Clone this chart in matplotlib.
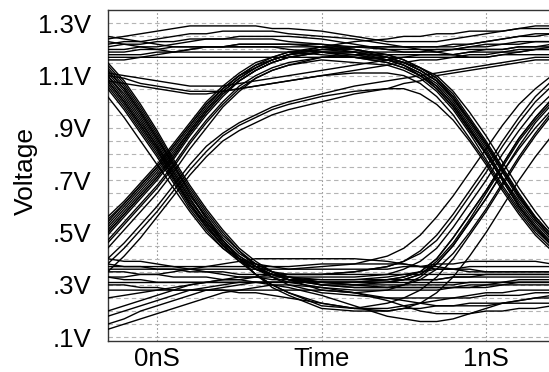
import matplotlib
matplotlib.use("Agg")
import matplotlib.pyplot as plt
from matplotlib.ticker import FixedLocator, MultipleLocator

plt.rcParams['font.family'] = ['Liberation Sans', 'DejaVu Sans']

# sample times (ns), shared by every trace
t_ns = [-0.15, -0.10, -0.05, 0.00, 0.05, 0.10, 0.15, 0.20, 0.25, 0.30, 0.35, 0.40, 0.50,
        0.60, 0.70, 0.75, 0.80, 0.85, 0.90, 0.95, 1.00, 1.05, 1.10, 1.15, 1.20, 1.25]

# voltage traces (V), grouped by bit pattern
stay_high = [
    [1.24, 1.25, 1.26, 1.27, 1.28, 1.29, 1.29, 1.29, 1.29, 1.29, 1.28, 1.28, 1.27, 1.25, 1.23, 1.23, 1.23, 1.23, 1.24, 1.25, 1.26, 1.27, 1.28, 1.29, 1.29, 1.29],
    [1.22, 1.23, 1.23, 1.24, 1.25, 1.26, 1.26, 1.27, 1.27, 1.27, 1.27, 1.26, 1.25, 1.24, 1.22, 1.21, 1.21, 1.21, 1.21, 1.22, 1.23, 1.24, 1.25, 1.26, 1.26, 1.26],
    [1.20, 1.20, 1.21, 1.21, 1.22, 1.23, 1.24, 1.24, 1.25, 1.25, 1.25, 1.25, 1.24, 1.22, 1.20, 1.19, 1.19, 1.19, 1.20, 1.21, 1.22, 1.22, 1.23, 1.23, 1.23, 1.23],
    [1.18, 1.18, 1.18, 1.19, 1.19, 1.20, 1.21, 1.21, 1.22, 1.22, 1.22, 1.22, 1.22, 1.21, 1.20, 1.20, 1.20, 1.20, 1.20, 1.20, 1.20, 1.20, 1.21, 1.21, 1.21, 1.21],
    [1.25, 1.24, 1.23, 1.22, 1.21, 1.21, 1.21, 1.21, 1.21, 1.21, 1.21, 1.21, 1.21, 1.21, 1.21, 1.21, 1.20, 1.19, 1.18, 1.17, 1.17, 1.18, 1.19, 1.20, 1.21, 1.22],
    [1.11, 1.10, 1.09, 1.08, 1.07, 1.06, 1.06, 1.06, 1.07, 1.08, 1.09, 1.10, 1.12, 1.14, 1.16, 1.17, 1.18, 1.18, 1.18, 1.19, 1.20, 1.20, 1.21, 1.21, 1.22, 1.22],
    [1.08, 1.07, 1.06, 1.05, 1.04, 1.03, 1.03, 1.04, 1.05, 1.06, 1.07, 1.08, 1.10, 1.12, 1.14, 1.15, 1.16, 1.16, 1.17, 1.18, 1.18, 1.19, 1.19, 1.20, 1.20, 1.20],
    [1.17, 1.17, 1.17, 1.17, 1.17, 1.17, 1.17, 1.17, 1.17, 1.17, 1.17, 1.17, 1.17, 1.17, 1.17, 1.17, 1.17, 1.17, 1.17, 1.17, 1.17, 1.18, 1.18, 1.18, 1.18, 1.18],
]
high_then_fall = [
    [1.21, 1.22, 1.22, 1.23, 1.23, 1.24, 1.24, 1.24, 1.24, 1.24, 1.24, 1.23, 1.22, 1.20, 1.17, 1.15, 1.12, 1.08, 1.01, 0.93, 0.84, 0.74, 0.64, 0.55, 0.48, 0.42],
    [1.19, 1.19, 1.20, 1.20, 1.21, 1.21, 1.21, 1.21, 1.21, 1.21, 1.21, 1.20, 1.19, 1.17, 1.15, 1.13, 1.10, 1.05, 0.98, 0.89, 0.80, 0.70, 0.60, 0.52, 0.45, 0.40],
    [1.23, 1.22, 1.21, 1.20, 1.19, 1.19, 1.19, 1.19, 1.19, 1.19, 1.19, 1.19, 1.18, 1.17, 1.16, 1.15, 1.13, 1.10, 1.04, 0.96, 0.87, 0.77, 0.67, 0.58, 0.50, 0.44],
    [1.10, 1.09, 1.07, 1.06, 1.05, 1.04, 1.04, 1.04, 1.05, 1.06, 1.07, 1.08, 1.10, 1.11, 1.11, 1.10, 1.07, 1.02, 0.95, 0.86, 0.77, 0.67, 0.58, 0.50, 0.44, 0.39],
    [1.16, 1.16, 1.17, 1.18, 1.19, 1.20, 1.21, 1.21, 1.22, 1.22, 1.22, 1.22, 1.21, 1.19, 1.16, 1.14, 1.11, 1.06, 0.99, 0.90, 0.81, 0.71, 0.62, 0.54, 0.47, 0.42],
]
rise_then_high = [
    [0.50, 0.57, 0.64, 0.71, 0.79, 0.88, 0.96, 1.03, 1.08, 1.12, 1.15, 1.17, 1.19, 1.19, 1.19, 1.19, 1.19, 1.20, 1.20, 1.21, 1.21, 1.22, 1.22, 1.23, 1.23, 1.23],
    [0.55, 0.61, 0.68, 0.75, 0.83, 0.91, 0.99, 1.05, 1.10, 1.13, 1.16, 1.18, 1.20, 1.21, 1.21, 1.21, 1.21, 1.21, 1.22, 1.22, 1.23, 1.24, 1.25, 1.25, 1.26, 1.26],
    [0.46, 0.53, 0.60, 0.67, 0.75, 0.84, 0.92, 0.99, 1.05, 1.09, 1.12, 1.14, 1.17, 1.18, 1.18, 1.18, 1.18, 1.18, 1.18, 1.19, 1.19, 1.19, 1.20, 1.20, 1.20, 1.20],
    [0.40, 0.46, 0.53, 0.60, 0.68, 0.76, 0.83, 0.88, 0.92, 0.95, 0.98, 1.00, 1.03, 1.06, 1.08, 1.09, 1.10, 1.11, 1.12, 1.13, 1.14, 1.15, 1.16, 1.17, 1.17, 1.18],
    [0.35, 0.41, 0.48, 0.56, 0.64, 0.72, 0.79, 0.85, 0.89, 0.92, 0.95, 0.97, 1.00, 1.03, 1.05, 1.07, 1.08, 1.10, 1.11, 1.12, 1.13, 1.14, 1.15, 1.16, 1.16, 1.17],
    [0.52, 0.59, 0.66, 0.73, 0.81, 0.89, 0.97, 1.04, 1.09, 1.13, 1.16, 1.18, 1.21, 1.23, 1.24, 1.25, 1.25, 1.26, 1.26, 1.27, 1.27, 1.27, 1.28, 1.28, 1.28, 1.28],
]
rise_then_fall = [
    [0.50, 0.57, 0.64, 0.71, 0.79, 0.88, 0.96, 1.03, 1.08, 1.12, 1.15, 1.17, 1.19, 1.18, 1.16, 1.14, 1.11, 1.07, 1.00, 0.91, 0.82, 0.71, 0.61, 0.53, 0.46, 0.41],
    [0.53, 0.60, 0.67, 0.74, 0.82, 0.90, 0.98, 1.05, 1.10, 1.14, 1.17, 1.19, 1.20, 1.19, 1.17, 1.15, 1.12, 1.08, 1.01, 0.92, 0.83, 0.73, 0.63, 0.55, 0.48, 0.42],
    [0.47, 0.54, 0.61, 0.68, 0.76, 0.85, 0.93, 1.00, 1.06, 1.10, 1.13, 1.15, 1.17, 1.17, 1.15, 1.13, 1.10, 1.05, 0.98, 0.89, 0.80, 0.70, 0.60, 0.52, 0.45, 0.40],
    [0.38, 0.44, 0.51, 0.58, 0.66, 0.74, 0.81, 0.87, 0.91, 0.94, 0.97, 0.99, 1.02, 1.04, 1.05, 1.05, 1.03, 0.99, 0.93, 0.85, 0.76, 0.66, 0.57, 0.49, 0.43, 0.38],
    [0.56, 0.62, 0.69, 0.76, 0.84, 0.92, 1.00, 1.06, 1.11, 1.15, 1.17, 1.19, 1.21, 1.20, 1.18, 1.16, 1.13, 1.09, 1.03, 0.94, 0.85, 0.75, 0.65, 0.56, 0.49, 0.43],
    [0.44, 0.51, 0.58, 0.65, 0.73, 0.82, 0.90, 0.98, 1.04, 1.09, 1.12, 1.14, 1.16, 1.15, 1.14, 1.12, 1.09, 1.04, 0.97, 0.88, 0.78, 0.68, 0.59, 0.51, 0.45, 0.40],
    [0.49, 0.56, 0.63, 0.70, 0.78, 0.87, 0.95, 1.02, 1.08, 1.12, 1.15, 1.17, 1.19, 1.19, 1.17, 1.15, 1.12, 1.08, 1.02, 0.93, 0.84, 0.74, 0.64, 0.55, 0.48, 0.43],
    [0.51, 0.58, 0.65, 0.72, 0.80, 0.89, 0.97, 1.04, 1.09, 1.13, 1.16, 1.18, 1.19, 1.18, 1.16, 1.14, 1.10, 1.06, 0.99, 0.90, 0.80, 0.70, 0.60, 0.52, 0.46, 0.41],
    [0.54, 0.61, 0.68, 0.75, 0.83, 0.91, 0.99, 1.05, 1.10, 1.14, 1.16, 1.18, 1.20, 1.20, 1.18, 1.16, 1.13, 1.09, 1.02, 0.93, 0.84, 0.74, 0.64, 0.56, 0.49, 0.44],
]
fall_then_low = [
    [1.08, 1.00, 0.91, 0.82, 0.71, 0.61, 0.53, 0.45, 0.40, 0.36, 0.34, 0.32, 0.30, 0.29, 0.29, 0.29, 0.29, 0.29, 0.29, 0.29, 0.30, 0.30, 0.31, 0.31, 0.31, 0.31],
    [1.12, 1.05, 0.96, 0.86, 0.76, 0.66, 0.57, 0.49, 0.43, 0.38, 0.35, 0.33, 0.31, 0.31, 0.31, 0.32, 0.32, 0.32, 0.33, 0.33, 0.34, 0.34, 0.34, 0.34, 0.34, 0.34],
    [1.10, 1.03, 0.94, 0.84, 0.73, 0.63, 0.54, 0.46, 0.39, 0.34, 0.30, 0.27, 0.23, 0.21, 0.21, 0.22, 0.23, 0.24, 0.25, 0.26, 0.27, 0.27, 0.28, 0.28, 0.28, 0.28],
    [1.05, 0.97, 0.88, 0.79, 0.69, 0.59, 0.51, 0.44, 0.39, 0.36, 0.34, 0.33, 0.32, 0.32, 0.33, 0.34, 0.35, 0.36, 0.36, 0.37, 0.37, 0.37, 0.37, 0.37, 0.37, 0.37],
    [1.14, 1.07, 0.98, 0.88, 0.77, 0.67, 0.58, 0.50, 0.43, 0.37, 0.33, 0.30, 0.27, 0.26, 0.25, 0.25, 0.25, 0.25, 0.25, 0.25, 0.26, 0.26, 0.26, 0.27, 0.27, 0.27],
    [1.13, 1.06, 0.97, 0.87, 0.76, 0.65, 0.55, 0.47, 0.40, 0.34, 0.29, 0.26, 0.21, 0.20, 0.20, 0.21, 0.21, 0.22, 0.22, 0.23, 0.23, 0.23, 0.23, 0.23, 0.23, 0.23],
    [1.02, 0.94, 0.85, 0.76, 0.67, 0.58, 0.50, 0.44, 0.40, 0.38, 0.37, 0.36, 0.36, 0.36, 0.36, 0.37, 0.37, 0.38, 0.38, 0.39, 0.39, 0.39, 0.39, 0.39, 0.38, 0.38],
    [1.09, 1.01, 0.92, 0.83, 0.72, 0.62, 0.54, 0.46, 0.41, 0.37, 0.34, 0.33, 0.31, 0.30, 0.30, 0.30, 0.30, 0.30, 0.30, 0.31, 0.31, 0.31, 0.32, 0.32, 0.32, 0.32],
    [1.07, 0.99, 0.90, 0.81, 0.71, 0.61, 0.52, 0.45, 0.40, 0.36, 0.33, 0.31, 0.29, 0.28, 0.28, 0.28, 0.28, 0.28, 0.29, 0.29, 0.29, 0.30, 0.30, 0.30, 0.30, 0.30],
]
fall_then_rise = [
    [1.08, 1.00, 0.91, 0.82, 0.71, 0.61, 0.53, 0.45, 0.40, 0.36, 0.34, 0.32, 0.31, 0.31, 0.32, 0.33, 0.35, 0.40, 0.48, 0.57, 0.66, 0.76, 0.86, 0.94, 1.01, 1.06],
    [1.11, 1.04, 0.95, 0.85, 0.74, 0.64, 0.56, 0.48, 0.42, 0.38, 0.35, 0.33, 0.30, 0.29, 0.29, 0.30, 0.33, 0.38, 0.45, 0.54, 0.63, 0.73, 0.83, 0.92, 0.99, 1.05],
    [1.12, 1.05, 0.96, 0.86, 0.75, 0.65, 0.56, 0.47, 0.40, 0.34, 0.30, 0.27, 0.22, 0.21, 0.23, 0.25, 0.28, 0.33, 0.40, 0.49, 0.58, 0.68, 0.78, 0.87, 0.95, 1.01],
    [1.06, 0.98, 0.89, 0.80, 0.70, 0.60, 0.52, 0.45, 0.40, 0.37, 0.35, 0.34, 0.34, 0.35, 0.37, 0.39, 0.42, 0.47, 0.55, 0.64, 0.73, 0.83, 0.92, 1.00, 1.06, 1.10],
    [1.15, 1.08, 0.99, 0.89, 0.78, 0.68, 0.59, 0.51, 0.44, 0.39, 0.35, 0.32, 0.28, 0.27, 0.28, 0.30, 0.32, 0.36, 0.42, 0.50, 0.59, 0.69, 0.79, 0.88, 0.96, 1.02],
    [1.10, 1.02, 0.93, 0.83, 0.73, 0.63, 0.54, 0.47, 0.41, 0.37, 0.34, 0.32, 0.30, 0.30, 0.31, 0.32, 0.34, 0.39, 0.46, 0.55, 0.65, 0.75, 0.85, 0.93, 1.00, 1.05],
]
low_then_rise = [
    [0.33, 0.32, 0.32, 0.31, 0.31, 0.31, 0.31, 0.31, 0.31, 0.31, 0.31, 0.31, 0.31, 0.31, 0.32, 0.33, 0.35, 0.40, 0.48, 0.57, 0.66, 0.76, 0.86, 0.94, 1.01, 1.06],
    [0.18, 0.20, 0.22, 0.24, 0.26, 0.28, 0.29, 0.30, 0.31, 0.31, 0.31, 0.31, 0.31, 0.31, 0.31, 0.32, 0.34, 0.38, 0.45, 0.54, 0.63, 0.73, 0.82, 0.90, 0.97, 1.02],
    [0.36, 0.36, 0.36, 0.36, 0.36, 0.35, 0.35, 0.35, 0.34, 0.34, 0.34, 0.34, 0.34, 0.35, 0.37, 0.39, 0.43, 0.49, 0.57, 0.66, 0.75, 0.85, 0.94, 1.02, 1.08, 1.12],
    [0.30, 0.30, 0.29, 0.29, 0.28, 0.28, 0.28, 0.28, 0.27, 0.27, 0.26, 0.25, 0.23, 0.21, 0.20, 0.21, 0.23, 0.27, 0.33, 0.41, 0.50, 0.60, 0.70, 0.79, 0.87, 0.93],
    [0.25, 0.26, 0.27, 0.28, 0.29, 0.30, 0.31, 0.32, 0.32, 0.33, 0.33, 0.33, 0.33, 0.33, 0.34, 0.36, 0.39, 0.44, 0.52, 0.61, 0.70, 0.80, 0.89, 0.97, 1.03, 1.08],
    [0.38, 0.37, 0.37, 0.36, 0.36, 0.36, 0.36, 0.36, 0.36, 0.36, 0.36, 0.36, 0.37, 0.38, 0.41, 0.44, 0.49, 0.56, 0.64, 0.73, 0.82, 0.91, 0.99, 1.05, 1.10, 1.13],
]
stay_low = [
    [0.31, 0.31, 0.31, 0.31, 0.31, 0.31, 0.31, 0.31, 0.31, 0.31, 0.31, 0.31, 0.31, 0.31, 0.31, 0.31, 0.31, 0.31, 0.31, 0.31, 0.31, 0.31, 0.31, 0.31, 0.31, 0.31],
    [0.37, 0.37, 0.37, 0.37, 0.37, 0.37, 0.37, 0.37, 0.37, 0.37, 0.37, 0.37, 0.38, 0.38, 0.38, 0.38, 0.37, 0.37, 0.36, 0.36, 0.35, 0.35, 0.35, 0.35, 0.35, 0.35],
    [0.15, 0.17, 0.20, 0.22, 0.24, 0.26, 0.28, 0.29, 0.30, 0.31, 0.31, 0.31, 0.31, 0.30, 0.29, 0.29, 0.29, 0.29, 0.29, 0.30, 0.30, 0.31, 0.31, 0.31, 0.31, 0.31],
    [0.20, 0.22, 0.24, 0.26, 0.28, 0.30, 0.31, 0.32, 0.33, 0.33, 0.34, 0.34, 0.34, 0.34, 0.34, 0.34, 0.34, 0.34, 0.34, 0.34, 0.34, 0.34, 0.34, 0.34, 0.34, 0.34],
    [0.35, 0.35, 0.34, 0.34, 0.33, 0.33, 0.33, 0.32, 0.32, 0.31, 0.30, 0.29, 0.26, 0.22, 0.18, 0.17, 0.16, 0.16, 0.17, 0.19, 0.21, 0.23, 0.24, 0.25, 0.25, 0.25],
    [0.28, 0.28, 0.28, 0.28, 0.28, 0.28, 0.28, 0.28, 0.28, 0.28, 0.28, 0.28, 0.28, 0.27, 0.25, 0.24, 0.23, 0.22, 0.22, 0.22, 0.22, 0.23, 0.24, 0.25, 0.26, 0.27],
    [0.40, 0.39, 0.39, 0.38, 0.37, 0.36, 0.35, 0.34, 0.33, 0.33, 0.32, 0.32, 0.32, 0.32, 0.32, 0.32, 0.32, 0.32, 0.33, 0.33, 0.33, 0.33, 0.33, 0.33, 0.33, 0.33],
    [0.13, 0.15, 0.17, 0.19, 0.21, 0.23, 0.25, 0.27, 0.28, 0.29, 0.30, 0.30, 0.29, 0.27, 0.24, 0.22, 0.20, 0.19, 0.19, 0.19, 0.20, 0.20, 0.21, 0.21, 0.22, 0.22],
    [0.33, 0.33, 0.34, 0.34, 0.35, 0.36, 0.37, 0.38, 0.39, 0.40, 0.40, 0.40, 0.40, 0.40, 0.39, 0.38, 0.37, 0.36, 0.36, 0.35, 0.35, 0.35, 0.35, 0.35, 0.35, 0.35],
]

y_ticks = [0.1, 0.3, 0.5, 0.7, 0.9, 1.1, 1.3]
y_labels = ['.1V', '.3V', '.5V', '.7V', '.9V', '1.1V', '1.3V']
x_ticks = [0.0, 0.5, 1.0]
x_labels = ['0nS', 'Time', '1nS']


def main():
    fig = plt.figure(figsize=(5.49, 3.72), dpi=100)
    # axes runs a little past the right edge of the picture
    ax = fig.add_axes([107.5 / 549, 31 / 372, 445 / 549, 330.7 / 372])

    for group in (stay_high, high_then_fall, rise_then_high, rise_then_fall,
                  fall_then_low, fall_then_rise, low_then_rise, stay_low):
        for v in group:
            ax.plot(t_ns, v, color='black', lw=1.0, zorder=3)

    ax.set_xlim(-0.1505, 1.202)
    ax.set_ylim(0.0855, 1.3497)

    ax.yaxis.set_major_locator(FixedLocator(y_ticks))
    ax.set_yticklabels(y_labels)
    ax.yaxis.set_minor_locator(MultipleLocator(0.05))
    ax.xaxis.set_major_locator(FixedLocator(x_ticks))
    ax.set_xticklabels(x_labels)

    ax.grid(axis='y', which='both', color='#b4b4b4', ls=(0, (4, 3)), lw=0.8)
    ax.grid(axis='x', which='major', color='#999999', ls=(0, (1.5, 2)), lw=0.8)
    ax.set_axisbelow(True)

    ax.tick_params(axis='both', which='both', length=0, labelsize=18.5)
    ax.tick_params(axis='y', pad=12)
    ax.tick_params(axis='x', pad=4)

    for side in ('left', 'top', 'bottom'):
        ax.spines[side].set_color('#333333')
        ax.spines[side].set_linewidth(1.0)
    ax.spines['right'].set_visible(False)

    fig.text(26 / 549, 1 - 171 / 372, 'Voltage', rotation=90,
             ha='center', va='center', fontsize=19)

    fig.savefig('out.png', dpi=100)


main()
